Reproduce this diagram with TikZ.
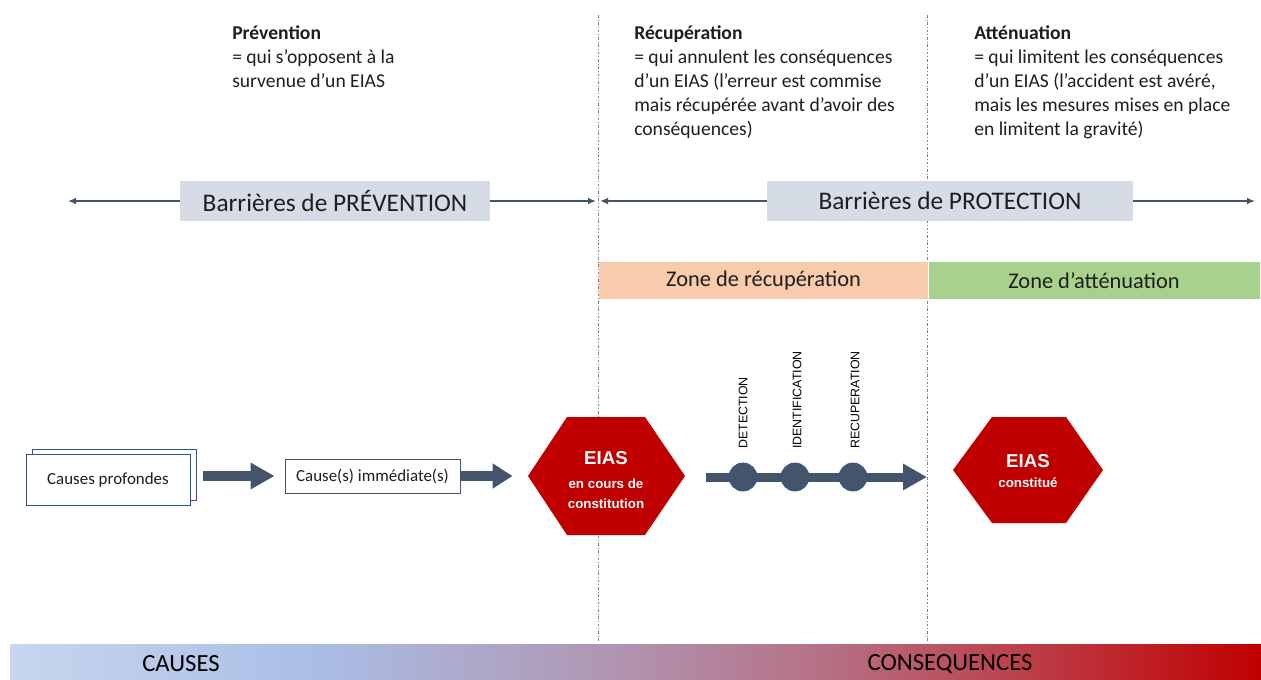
\documentclass[tikz,border=0pt]{standalone}
\usepackage{fontspec}
\setmainfont{Carlito}
\newfontfamily\arialfont{Liberation Sans}
\usetikzlibrary{arrows.meta}

\definecolor{ardoise}{RGB}{68,84,106}
\definecolor{grisbleu}{RGB}{214,220,229}
\definecolor{peche}{RGB}{248,203,173}
\definecolor{vert}{RGB}{169,209,142}
\definecolor{rouge}{RGB}{192,0,0}
\definecolor{bleu}{RGB}{47,85,151}
\definecolor{texte}{RGB}{30,30,30}
\definecolor{gA}{RGB}{200,214,238}
\definecolor{gB}{RGB}{170,190,230}
\definecolor{gC}{RGB}{176,150,178}
\definecolor{gD}{RGB}{182,110,130}
\definecolor{gE}{RGB}{188,60,70}
\pgfdeclarehorizontalshading{causecons}{100bp}{color(0bp)=(gA); color(25bp)=(gA); color(37bp)=(gB); color(49bp)=(gC); color(58bp)=(gD); color(66bp)=(gE); color(75bp)=(rouge); color(100bp)=(rouge)}

\begin{document}
\begin{tikzpicture}[x=0.75pt,y=-0.75pt,
	titre/.style={anchor=north west,inner sep=0pt,align=left,text=texte,font=\fontsize{14.7}{18}\selectfont},
	barriere/.style={fill=grisbleu,minimum height=30pt,inner sep=0pt,text=texte,font=\fontsize{19}{19}\selectfont},
	zone/.style={minimum width=246.75pt,minimum height=27.75pt,inner sep=0pt,text=texte,font=\fontsize{16.8}{16.8}\selectfont},
	cause/.style={draw,fill=white,line width=0.6pt,inner sep=0pt,text=texte,font=\fontsize{12.7}{12.7}\selectfont},
	fleche/.style={ardoise,line width=1.1pt,-{Latex[length=6pt,width=5pt]}},
	grosse/.style={ardoise,line width=7pt,-{Triangle[length=18pt,width=18.75pt]}},
	etape/.style={circle,fill=ardoise,draw=bleu,line width=0.6pt,minimum size=21pt,inner sep=0pt},
	etiq/.style={rotate=90,anchor=west,inner sep=0pt,font=\arialfont\fontsize{9.3}{9.3}\selectfont},
	eias/.style={align=center,text=white,inner sep=0pt,font=\arialfont\bfseries\fontsize{10}{15}\selectfont},
	bas/.style={text=black,font=\fontsize{18.5}{18.5}\selectfont}]
					\useasboundingbox (0,0) rectangle (1261,679);
					% separations
					\draw[gray,line width=0.6pt,dash pattern=on 2pt off 1.5pt on 0.5pt off 1.5pt] (598,15) -- (598,643);
					\draw[gray,line width=0.6pt,dash pattern=on 2pt off 1.5pt on 0.5pt off 1.5pt] (927,15) -- (927,643);
					% textes du haut
					\node[titre] (tprev) at (232,25) {\textbf{Prévention}\\= qui s’opposent à la\\survenue d’un EIAS};
					\node[titre] (trec) at (634,25) {\textbf{Récupération}\\= qui annulent les conséquences\\d’un EIAS (l’erreur est commise\\mais récupérée avant d’avoir des\\conséquences)};
					\node[titre] (tatt) at (974,25) {\textbf{Atténuation}\\= qui limitent les conséquences\\d’un EIAS (l’accident est avéré,\\mais les mesures mises en place\\en limitent la gravité)};
					% barrieres
					\node[barriere,minimum width=232.5pt] (prev) at (335,201) {Barrières de PRÉVENTION};
					\node[barriere,minimum width=274.5pt] (prot) at (950,201) {Barrières de PROTECTION};
					\coordinate (g1) at (68,201);
					\coordinate (d1) at (596,201);
					\coordinate (g2) at (600,201);
					\coordinate (d2) at (1255,201);
					\draw[fleche] (prev) -- (g1);
					\draw[fleche] (prev) -- (d1);
					\draw[fleche] (prot) -- (g2);
					\draw[fleche] (prot) -- (d2);
					% zones
					\node[zone,fill=peche] (zr) at (763.5,280.5) {Zone de récupération};
					\node[zone,fill=vert,minimum width=248.25pt,anchor=west] (za) at (zr.east) {Zone d’atténuation};
					% causes
					\node[cause,draw=bleu,minimum width=123pt,minimum height=38.25pt] (fond) at (114,474.5) {};
					\node[cause,draw=bleu,minimum width=123pt,minimum height=38.25pt] (prof) at (108,479.5) {Causes profondes\hspace{7pt}};
					\node[cause,draw=ardoise,minimum width=131.25pt,minimum height=25.5pt] (imm) at (372.5,476) {Cause(s) immédiate(s)};
					% EIAS
					\fill[rouge] (528,476) -- (567,417) -- (645,417) -- (685,476) -- (645,535) -- (567,535) -- cycle;
					\node[eias,minimum width=117.75pt,minimum height=88.5pt] (e1) at (606,480) {{\fontsize{14}{14}\selectfont EIAS}\\[3pt]en cours de\\constitution};
					\fill[rouge] (953,470) -- (992,417) -- (1066,417) -- (1103,470) -- (1066,523) -- (992,523) -- cycle;
					\node[eias] (e2) at (1028,471) {{\fontsize{14}{14}\selectfont EIAS}\\constitué};
					\coordinate (fin) at (927,477);
					\draw[grosse,shorten <=9.75pt,shorten >=7.5pt] (prof.east |- imm) -- (imm.west);
					\draw[grosse,shorten >=11pt,-{Triangle[length=15pt,width=18pt]}] (imm) -- (e1.west |- imm);
					\draw[grosse,line width=6.75pt,shorten <=16pt] (e1.east |- fin) -- (fin);
					% etapes
					\node[etape] (det) at (743,477) {};
					\node[etape] (ide) at (795,477) {};
					\node[etape] (rec) at (853,477) {};
					\node[etiq] (tdet) at (743,449) {DETECTION};
					\node[etiq] (tide) at (797,449) {IDENTIFICATION};
					\node[etiq] (trecu) at (855,449) {RECUPERATION};
					% bandeau
					\shade[shading=causecons] (10,644) rectangle (1261,679);
					\node[bas] (causes) at (181,664) {CAUSES};
					\node[bas] (cons) at (950,664) {CONSEQUENCES};
				\end{tikzpicture}
\end{document}
